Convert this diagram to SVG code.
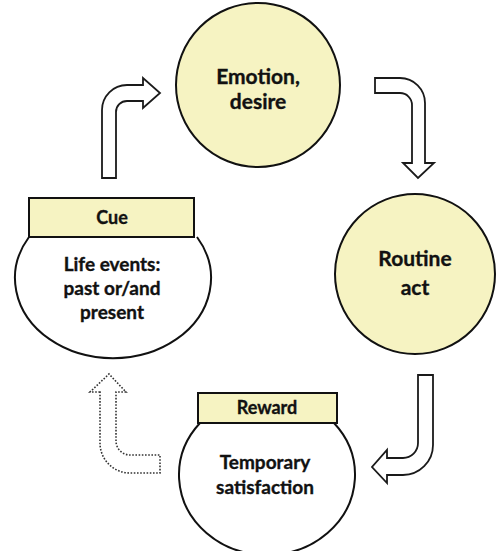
<svg xmlns="http://www.w3.org/2000/svg" width="500" height="551" viewBox="0 0 500 551">
<style>
.node{fill:#f6f3c2;stroke:#111;stroke-width:2}
.cup{fill:#fff;stroke:#111;stroke-width:2}
.arr{fill:#fff;stroke:#1a1a1a;stroke-width:1.8;stroke-linejoin:miter}
.dot{fill:#fff;stroke:#333;stroke-width:1.6;stroke-dasharray:1.6 1.6}
text{font-family:Lato,"Open Sans",sans-serif;font-weight:bold;fill:#111;stroke:#111;stroke-width:0.35;text-anchor:middle}
.big{font-size:21px}
.sm{font-size:19px}
.lbl{font-size:18px}
</style>
<rect width="500" height="551" fill="#fff"/>
<g id="connectors">
<path class="arr" d="M102,178 V110 A25,25 0 0 1 127,85 H143 V78 L160,93 L143,108 V101 H127 A11,11 0 0 0 116,112 V178 Z"/>
<path class="arr" d="M375,78 H400 A25,25 0 0 1 425,103 V163 H434 L418,178 L403,163 H412 V105 A12,12 0 0 0 400,93 H375 Z"/>
<path class="arr" d="M418,375 H433 V445 A30,30 0 0 1 403,475 H387 V483 L372,467 L387,450 V458 H403 A15,15 0 0 0 418,443 Z"/>
<path class="dot" d="M100,392 H90 L109,374 L126,392 H116 V441 A14,14 0 0 0 130,455 H160 V473 H130 A30,30 0 0 1 100,443 Z"/>
</g>
<g id="emotion">
<circle class="node" cx="258" cy="85" r="82"/>
<text class="big" x="258" y="84">Emotion,</text>
<text class="big" x="258" y="109">desire</text>
</g>
<g id="routine">
<circle class="node" cx="415" cy="274" r="80"/>
<text class="big" x="415" y="266">Routine</text>
<text class="big" x="415" y="295">act</text>
</g>
<g id="cue">
<path class="cup" d="M29,237 A98,80 0 1 0 197,237"/>
<rect class="node" x="29" y="198" width="165" height="39"/>
<text class="lbl" x="112" y="224">Cue</text>
<text class="sm" x="112" y="271">Life events:</text>
<text class="sm" x="112" y="295">past or/and</text>
<text class="sm" x="112" y="319">present</text>
</g>
<g id="reward">
<path class="cup" d="M200,423 A88,80 0 1 0 334,423"/>
<rect class="node" x="198" y="393" width="139" height="30"/>
<text class="lbl" x="267" y="414">Reward</text>
<text class="sm" x="265" y="469">Temporary</text>
<text class="sm" x="265" y="494">satisfaction</text>
</g>
</svg>
